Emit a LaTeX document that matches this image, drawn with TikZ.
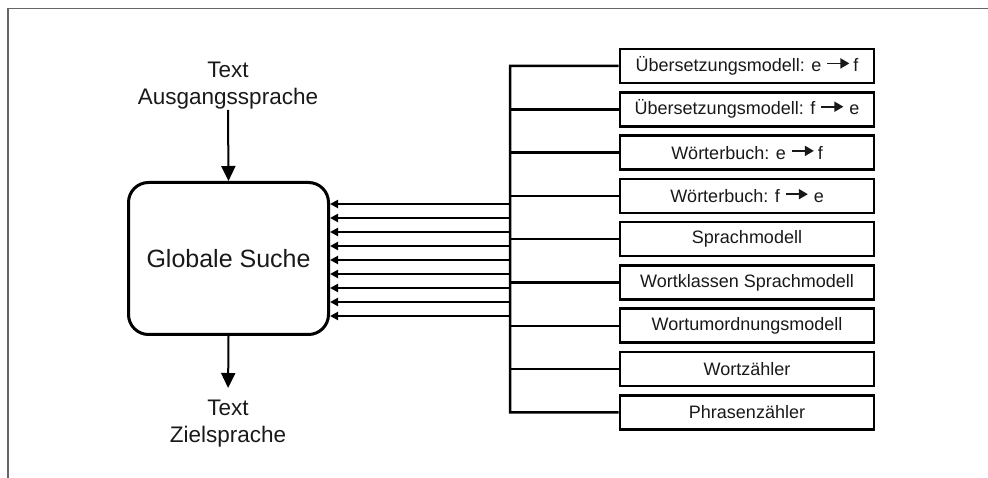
\documentclass[tikz,border=0pt]{standalone}
\usepackage{fontspec}
\setmainfont{Liberation Sans}
\usetikzlibrary{arrows.meta}
\newcommand{\rarr}{\tikz[baseline=-0.5ex,x=1pt,y=1pt]\draw[line width=1.8pt,-{Triangle[length=9pt,width=10pt]}] (0,3.5pt)--(22pt,3.5pt);}
\tikzset{
  frame/.style={draw=black!60,line width=1.2pt},
  mainbox/.style={draw,line width=3pt,rounded corners=20pt,minimum width=200pt,minimum height=152pt,inner sep=0pt,font=\fontsize{25}{30}\selectfont},
  modbox/.style={draw,line width=2.6pt,minimum width=254pt,minimum height=34pt,inner sep=0pt,font=\fontsize{18}{22}\selectfont},
  label/.style={align=center,inner sep=0pt,font=\fontsize{22.5}{27}\selectfont},
  bigarrow/.style={line width=2pt,-{Triangle[length=15pt,width=14pt]}},
  smallarrow/.style={line width=2pt,-{Triangle[length=8pt,width=8pt]}},
  busline/.style={line width=2.5pt},
}
\begin{document}
\begin{tikzpicture}[x=1pt,y=-1pt,text=black!90]
\useasboundingbox (0,0) rectangle (988,478);
\draw[frame] (8,478) -- (8,8.5) -- (988,8.5);
\node[mainbox] (main) at (228.5,258.5) {Globale Suche};
\node[label] (src) at (228,86) {Text\\Ausgangssprache};
\node[label,anchor=north] (dst) at (228,400) {Text\\Zielsprache};
\draw[bigarrow] (src.south) -- (main.north);
\draw[bigarrow,shorten >=12pt] (main.south) -- (dst.north);
\foreach \i/\t in {1/{Übersetzungsmodell: e \rarr\,f},
                   2/{Übersetzungsmodell: f \rarr\ e},
                   3/{Wörterbuch: e \rarr\,f},
                   4/{Wörterbuch: f \rarr\ e},
                   5/{Sprachmodell},
                   6/{Wortklassen Sprachmodell},
                   7/{Wortumordnungsmodell},
                   8/{Wortzähler},
                   9/{Phrasenzähler}}{
  \node[modbox] (m\i) at (747,{66+(\i-1)*43.3}) {\t};
}
\coordinate (bt) at (510,66);
\coordinate (bb) at (510,412.4);
\draw[busline] (m1.west) -| (bb) -- (m9.west);
\foreach \i in {2,...,8}{
  \draw[busline] (m\i.west) -- (m\i.west -| bt);
}
\foreach \i in {0,...,8}{
  \coordinate (a\i) at (510,{204+\i*14});
  \draw[smallarrow] (a\i) -- (a\i -| main.east);
}
\end{tikzpicture}
\end{document}
